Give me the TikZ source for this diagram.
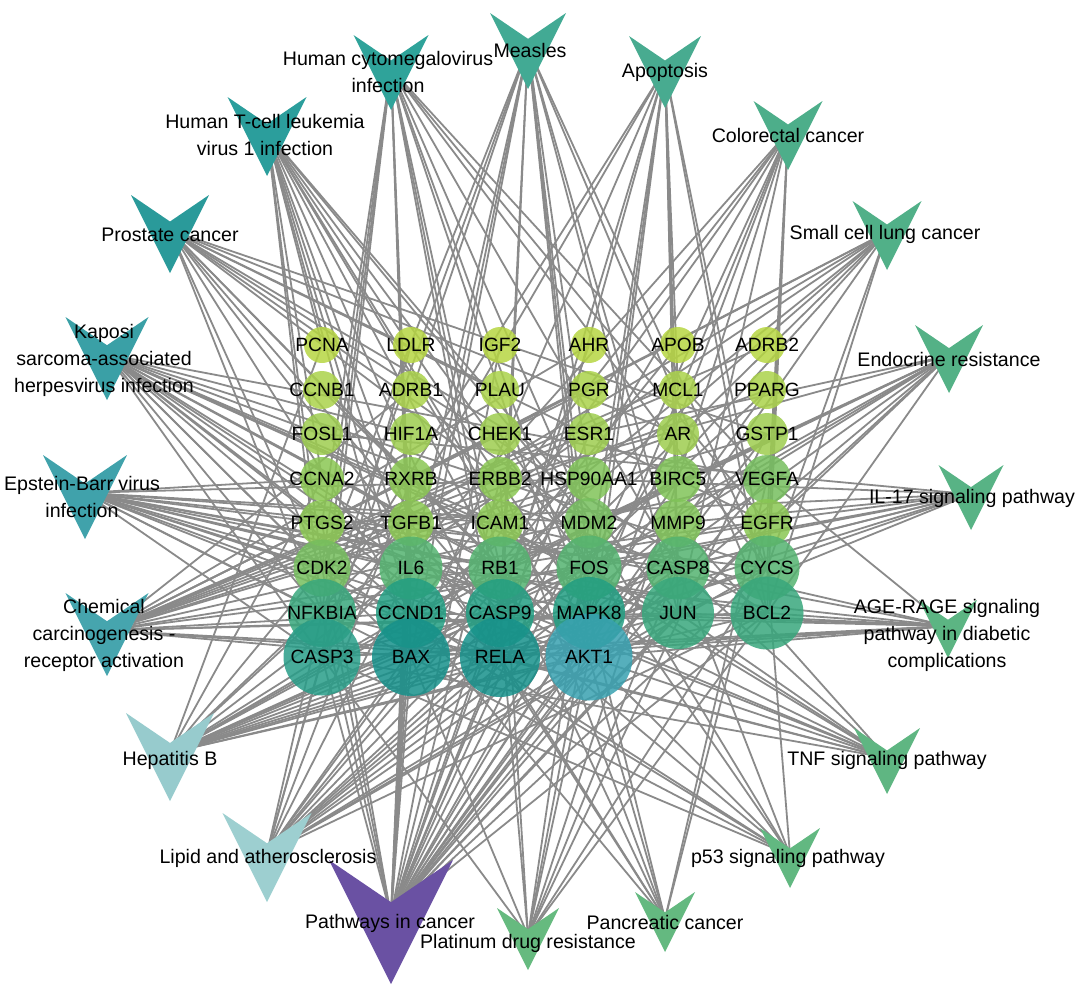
\documentclass[tikz,border=0pt]{standalone}
\usepackage{fontspec}
\setmainfont{Liberation Sans}
\usepackage{tikz}
\usepackage{xcolor}
\definecolor{linkgray}{RGB}{138,138,138}
% gene colours, light to dark
\definecolor{limeA}{RGB}{182,214,66}
\definecolor{limeB}{RGB}{170,210,74}
\definecolor{limeC}{RGB}{157,205,79}
\definecolor{grassA}{RGB}{138,199,82}
\definecolor{grassB}{RGB}{128,195,88}
\definecolor{grassC}{RGB}{118,190,94}
\definecolor{seaA}{RGB}{84,179,112}
\definecolor{seaB}{RGB}{56,167,124}
\definecolor{tealA}{RGB}{34,158,130}
\definecolor{tealB}{RGB}{40,157,136}
\definecolor{tealC}{RGB}{22,145,139}
\definecolor{aktblue}{RGB}{56,161,176}
% pathway colours
\definecolor{measgreen}{RGB}{66,170,148}
\definecolor{apopgreen}{RGB}{72,171,144}
\definecolor{cologreen}{RGB}{77,174,138}
\definecolor{sclcgreen}{RGB}{81,176,136}
\definecolor{endogreen}{RGB}{84,177,134}
\definecolor{ilgreen}{RGB}{88,179,133}
\definecolor{agegreen}{RGB}{92,181,131}
\definecolor{tnfgreen}{RGB}{95,182,130}
\definecolor{ptgreen}{RGB}{98,184,129}
\definecolor{pancgreen}{RGB}{100,185,128}
\definecolor{platgreen}{RGB}{102,186,127}
\definecolor{cancpurple}{RGB}{106,81,163}
\definecolor{lipidteal}{RGB}{157,207,208}
\definecolor{hepteal}{RGB}{151,203,205}
\definecolor{chemteal}{RGB}{70,165,174}
\definecolor{ebvteal}{RGB}{64,162,171}
\definecolor{kshvteal}{RGB}{58,160,166}
\definecolor{prosteal}{RGB}{42,154,154}
\definecolor{htlvteal}{RGB}{43,158,156}
\definecolor{hcmvteal}{RGB}{47,163,154}
\pgfdeclarelayer{background}
\pgfsetlayers{background,main}

\begin{document}
\begin{tikzpicture}[x=0.5pt, y=-0.5pt,
    gene/.style={circle, inner sep=0pt, draw=none, fill opacity=0.85},
    glabel/.style={font=\fontsize{9.6}{12}\selectfont, inner sep=0pt},
    plabel/.style={font=\fontsize{9.8}{13.5}\selectfont, align=center, inner sep=0pt},
    link/.style={linkgray, line width=0.9pt}]

    \useasboundingbox (0,0) rectangle (1080,996);

    % Genes, top row first so the big ones lie on top
    \foreach \g/\x/\y/\d/\c in {
        PCNA/322/345/36/limeA, LDLR/411/345/36/limeA, IGF2/500/345/36/limeA,
        AHR/589/345/36/limeA, APOB/678/345/36/limeA, ADRB2/767/345/36/limeA,
        CCNB1/322/390/38/limeB, ADRB1/411/390/38/limeB, PLAU/500/390/38/limeB,
        PGR/589/390/38/limeB, MCL1/678/390/38/limeB, PPARG/767/390/38/limeB,
        FOSL1/322/434/42/limeC, HIF1A/411/434/42/limeC, CHEK1/500/434/42/limeC,
        ESR1/589/434/42/limeC, AR/678/434/42/limeC, GSTP1/767/434/42/limeC,
        CCNA2/322/479/44/grassA, RXRB/411/479/44/grassA, ERBB2/500/479/44/grassA,
        HSP90AA1/589/479/45/grassB, BIRC5/678/479/46/grassB, VEGFA/767/479/48/grassC,
        PTGS2/322/523/46/grassA, TGFB1/411/523/46/grassA, ICAM1/500/523/47/grassA,
        MDM2/589/523/50/grassC, MMP9/678/523/48/grassB, EGFR/767/523/48/grassA,
        CDK2/322/568/57/grassC, IL6/411/568/63/seaA, RB1/500/568/63/seaA,
        FOS/589/568/65/seaA, CASP8/678/568/63/seaA, CYCS/767/568/65/seaA,
        NFKBIA/322/613/68/seaB, CCND1/411/613/70/tealA, CASP9/500/613/68/tealA,
        MAPK8/589/613/72/tealA, JUN/678/613/72/seaB, BCL2/767/613/73/seaB,
        CASP3/322/657/77/tealB, BAX/411/657/78/tealC, RELA/500/657/80/tealC,
        AKT1/589/657/87/aktblue}
      \node[gene, minimum size=\d*0.5pt, fill=\c] (\g) at (\x,\y) {};

    \foreach \g in {PCNA,LDLR,IGF2,AHR,APOB,ADRB2,CCNB1,ADRB1,PLAU,PGR,MCL1,PPARG,
        FOSL1,HIF1A,CHEK1,ESR1,AR,GSTP1,CCNA2,RXRB,ERBB2,HSP90AA1,BIRC5,VEGFA,
        PTGS2,TGFB1,ICAM1,MDM2,MMP9,EGFR,CDK2,IL6,RB1,FOS,CASP8,CYCS,
        NFKBIA,CCND1,CASP9,MAPK8,JUN,BCL2,CASP3,BAX,RELA,AKT1}
      \node[glabel] (t\g) at (\g) {\g};

    % Pathways: V marks, hub point inside each
    \foreach \nm/\x/\y/\s/\c in {
        pMeas/528/13/76/measgreen, pApop/665/36/72/apopgreen,
        pColo/788/101/69/cologreen, pSclc/887/201/69/sclcgreen,
        pEndo/949/325/68/endogreen, pIl/971/465/65/ilgreen,
        pAge/948/600/58/agegreen, pTnf/887/728/66/tnfgreen,
        pPt/790/828/60/ptgreen, pPanc/665/892/60/pancgreen,
        pPlat/528/908/62/platgreen, pCanc/391/860/124/cancpurple,
        pLipid/267/813/89/lipidteal, pHep/170/713/88/hepteal,
        pChem/107/593/83/chemteal, pEbv/85/455/84/ebvteal,
        pKshv/107/317/83/kshvteal, pPros/170/195/78/prosteal,
        pHtlv/267/97/79/htlvteal, pHcmv/391/35/75/hcmvteal}
    {
      \fill[\c] ({\x-\s/2},\y) -- (\x,{\y+0.34*\s}) -- ({\x+\s/2},\y) -- (\x,{\y+\s}) -- cycle;
      \coordinate (\nm) at (\x,{\y+0.45*\s});
    }

    % Links
    \begin{pgfonlayer}{background}
    \foreach \g in {AKT1,RELA,BAX,CASP3,MAPK8,JUN,BCL2,CCND1,NFKBIA,CASP9,FOS,CYCS,IL6,RB1,CASP8,CDK2,
        PTGS2,TGFB1,MDM2,MMP9,EGFR,VEGFA,BIRC5,HSP90AA1,ERBB2,RXRB,HIF1A,ESR1,AR,PPARG,GSTP1,IGF2,AHR}
      \draw[link] (pCanc) -- (\g.center);
    \foreach \g in {AKT1,RELA,BAX,CASP3,MAPK8,JUN,BCL2,NFKBIA,CASP9,FOS,CYCS,IL6,CASP8,MMP9,ICAM1,
        LDLR,APOB,PPARG,HSP90AA1,RXRB}
      \draw[link] (pLipid) -- (\g.center);
    \foreach \g in {AKT1,RELA,BAX,CASP3,MAPK8,JUN,BCL2,CCND1,NFKBIA,CASP9,FOS,CYCS,IL6,RB1,CASP8,CDK2,
        TGFB1,MMP9,BIRC5,PCNA,CCNA2}
      \draw[link] (pHep) -- (\g.center);
    \foreach \g in {AKT1,RELA,BAX,JUN,BCL2,CCND1,FOS,ESR1,AR,PGR,AHR,RXRB,EGFR,VEGFA,ERBB2,HSP90AA1,
        CHEK1,ADRB2,PPARG,ADRB1,MCL1,GSTP1}
      \draw[link] (pChem) -- (\g.center);
    \foreach \g in {AKT1,RELA,BAX,CASP3,MAPK8,JUN,BCL2,CCND1,NFKBIA,CASP9,CYCS,IL6,RB1,CASP8,CDK2,
        ICAM1,MDM2,CCNA2,HSP90AA1}
      \draw[link] (pEbv) -- (\g.center);
    \foreach \g in {AKT1,RELA,BAX,CASP3,MAPK8,JUN,CCND1,NFKBIA,CASP9,FOS,CYCS,IL6,RB1,CASP8,CDK2,
        HIF1A,VEGFA,ICAM1,PTGS2}
      \draw[link] (pKshv) -- (\g.center);
    \foreach \g in {AKT1,RELA,CCND1,NFKBIA,BCL2,MDM2,RB1,CASP9,EGFR,ERBB2,AR,HSP90AA1,PLAU,GSTP1,CDK2}
      \draw[link] (pPros) -- (\g.center);
    \foreach \g in {AKT1,RELA,JUN,FOS,CCND1,NFKBIA,IL6,RB1,CDK2,TGFB1,PCNA,MAPK8,ICAM1,BAX,MDM2,CCNA2}
      \draw[link] (pHtlv) -- (\g.center);
    \foreach \g in {AKT1,RELA,BAX,CASP3,MAPK8,CCND1,NFKBIA,CASP9,CYCS,IL6,RB1,CASP8,CDK2,MDM2,PTGS2,
        VEGFA,EGFR}
      \draw[link] (pHcmv) -- (\g.center);
    \foreach \g in {AKT1,RELA,BAX,CASP3,MAPK8,JUN,BCL2,CCND1,NFKBIA,CASP9,FOS,CYCS,IL6,CASP8,CDK2,HSP90AA1}
      \draw[link] (pMeas) -- (\g.center);
    \foreach \g in {AKT1,RELA,BAX,CASP3,MAPK8,JUN,BCL2,NFKBIA,CASP9,FOS,CYCS,CASP8,BIRC5,MCL1}
      \draw[link] (pApop) -- (\g.center);
    \foreach \g in {AKT1,BAX,CASP3,MAPK8,JUN,BCL2,CCND1,CASP9,FOS,CYCS,EGFR,BIRC5}
      \draw[link] (pColo) -- (\g.center);
    \foreach \g in {AKT1,RELA,BCL2,CCND1,NFKBIA,CASP9,CYCS,RB1,CDK2,PTGS2,RXRB}
      \draw[link] (pSclc) -- (\g.center);
    \foreach \g in {AKT1,BAX,MAPK8,JUN,BCL2,CCND1,FOS,RB1,MDM2,EGFR,ERBB2,ESR1,MMP9}
      \draw[link] (pEndo) -- (\g.center);
    \foreach \g in {RELA,CASP3,MAPK8,JUN,NFKBIA,FOS,IL6,CASP8,PTGS2,MMP9,HSP90AA1,FOSL1}
      \draw[link] (pIl) -- (\g.center);
    \foreach \g in {AKT1,RELA,BAX,CASP3,MAPK8,JUN,BCL2,CCND1,IL6,TGFB1,ICAM1,VEGFA}
      \draw[link] (pAge) -- (\g.center);
    \foreach \g in {AKT1,RELA,CASP3,MAPK8,JUN,NFKBIA,FOS,IL6,CASP8,PTGS2,MMP9,ICAM1}
      \draw[link] (pTnf) -- (\g.center);
    \foreach \g in {BAX,CASP3,CASP9,CYCS,CASP8,CCND1,CDK2,MDM2,CHEK1,CCNB1}
      \draw[link] (pPt) -- (\g.center);
    \foreach \g in {AKT1,RELA,MAPK8,CCND1,RB1,EGFR,ERBB2,VEGFA,TGFB1}
      \draw[link] (pPanc) -- (\g.center);
    \foreach \g in {AKT1,BAX,CASP3,MAPK8,BCL2,CASP9,CYCS,CASP8,MDM2,BIRC5,GSTP1,ERBB2}
      \draw[link] (pPlat) -- (\g.center);
    \end{pgfonlayer}

    % Pathway names
    \node[plabel] (lMeas) at (530,50) {Measles};
    \node[plabel] (lApop) at (665,72) {Apoptosis};
    \node[plabel] (lColo) at (788,135) {Colorectal cancer};
    \node[plabel] (lSclc) at (885,234) {Small cell lung cancer};
    \node[plabel] (lEndo) at (949,359) {Endocrine resistance};
    \node[plabel] (lIl) at (972,498) {IL-17 signaling pathway};
    \node[plabel] (lAge) at (947,635) {AGE-RAGE signaling\\pathway in diabetic\\complications};
    \node[plabel] (lTnf) at (887,760) {TNF signaling pathway};
    \node[plabel] (lPt) at (788,858) {p53 signaling pathway};
    \node[plabel] (lPanc) at (665,922) {Pancreatic cancer};
    \node[plabel] (lPlat) at (528,943) {Platinum drug resistance};
    \node[plabel] (lCanc) at (390,923) {Pathways in cancer};
    \node[plabel] (lLipid) at (268,858) {Lipid and atherosclerosis};
    \node[plabel] (lHep) at (170,760) {Hepatitis B};
    \node[plabel] (lChem) at (104,635) {Chemical\\carcinogenesis -\\receptor activation};
    \node[plabel] (lEbv) at (82,497) {Epstein-Barr virus\\infection};
    \node[plabel] (lKshv) at (104,360) {Kaposi\\sarcoma-associated\\herpesvirus infection};
    \node[plabel] (lPros) at (170,235) {Prostate cancer};
    \node[plabel] (lHtlv) at (265,135) {Human T-cell leukemia\\virus 1 infection};
    \node[plabel] (lHcmv) at (388,72) {Human cytomegalovirus\\infection};
\end{tikzpicture}
\end{document}
